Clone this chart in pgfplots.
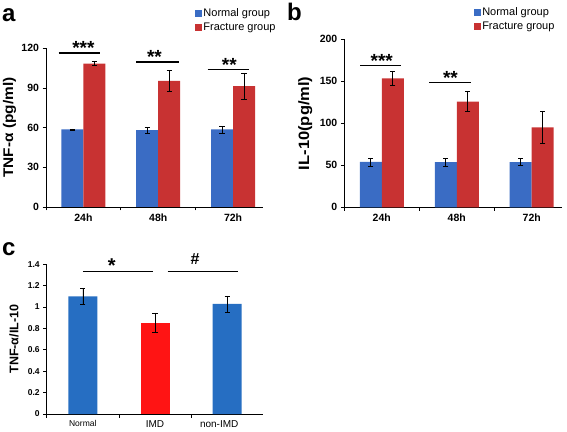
\documentclass[border=0pt]{standalone}
\usepackage{fontspec}
\setmainfont{Liberation Sans}
\usepackage{graphicx}
\usepackage{pgfplots}
\pgfplotsset{compat=1.18}
\definecolor{cblue}{RGB}{58,108,196}
\definecolor{cred}{RGB}{200,50,50}
\definecolor{cbright}{RGB}{255,20,20}
\definecolor{cblue2}{RGB}{38,110,194}
\pgfplotsset{
  sqlegend/.style={legend image code/.code={\fill[##1] (-2pt,-3.5pt) rectangle (5pt,3.5pt);}},
  panel/.style={
    scale only axis, clip=false, anchor=south west,
    axis x line*=bottom, axis y line*=left,
    axis line style={line width=0.8pt, black},
    tick align=outside, major tick length=3.5pt,
    every tick/.style={black, line width=0.8pt},
    enlargelimits=false,
    /pgf/number format/assume math mode=true,
    tick label style={font=\bfseries\fontsize{10.5}{12}\selectfont},
    error bars/y dir=both, error bars/y explicit,
    error bars/error bar style={black, line width=0.6pt},
    error bars/error mark options={black, rotate=90, mark size=2.6pt, line width=0.6pt},
  },
  twogroup/.style={
    panel, xmin=0, xmax=2.9, xtick={0,1,2}, xticklabels={,,},
    extra x ticks={0.5,1.5,2.5}, extra x tick labels={24h,48h,72h},
    extra x tick style={major tick length=0pt, tick label style={yshift=-3pt}},
    ybar=0pt, bar width=22pt,
    legend style={draw=none, fill=none, inner sep=0pt, outer sep=0pt,
      anchor=north west, row sep=1.5pt, legend cell align=left,
      font=\fontsize{11}{12}\selectfont, nodes={inner sep=1.6pt}},
  },
}
\begin{document}
\begin{tikzpicture}
\useasboundingbox (0,0) rectangle (567pt,431pt);
% panel letters
\node[anchor=base west, inner sep=0pt, font=\bfseries\fontsize{24}{24}\selectfont] at (2pt,409pt) {a};
\node[anchor=base west, inner sep=0pt, font=\bfseries\fontsize{24}{24}\selectfont] at (287pt,410pt) {b};
\node[anchor=base west, inner sep=0pt, font=\bfseries\fontsize{24}{24}\selectfont] at (2pt,175pt) {c};

% ---------- panel a ----------
\begin{axis}[twogroup, at={(46pt,224pt)}, width=217pt, height=158.7pt,
  ymin=0, ymax=120, ytick={0,30,60,90,120},
  ylabel={\scalebox{1.1}[1]{TNF-α (pg/ml)}},
  ylabel style={at={(axis description cs:-0.152,0.5)}, anchor=base, font=\bfseries\fontsize{14}{14}\selectfont},
  legend style={at={(axis description cs:0.686,1.26)}},
]
\addplot[fill=cblue, draw=none, sqlegend] coordinates {(0.5,58.6) +- (0,0.5) (1.5,58.1) +- (0,2.0) (2.5,58.6) +- (0,2.6)};
\addplot[fill=cred, draw=none, sqlegend] coordinates {(0.5,108.5) +- (0,1.3) (1.5,95.4) +- (0,8.0) (2.5,91.4) +- (0,10.0)};
\legend{Normal group, Fracture group}
\draw[line width=1.6pt] (axis cs:0.169,116.5) -- (axis cs:0.723,116.5);
\draw[line width=1.6pt] (axis cs:1.209,109.7) -- (axis cs:1.771,109.7);
\draw[line width=1.6pt] (axis cs:2.159,103.9) -- (axis cs:2.708,103.9);
\node[anchor=base, inner sep=0pt, yshift=-1.7pt, font=\bfseries\fontsize{19}{19}\selectfont] at (axis cs:0.5,116.5) {***};
\node[anchor=base, inner sep=0pt, yshift=-1.7pt, font=\bfseries\fontsize{19}{19}\selectfont] at (axis cs:1.45,109.7) {**};
\node[anchor=base, inner sep=0pt, yshift=-1.7pt, font=\bfseries\fontsize{19}{19}\selectfont] at (axis cs:2.45,103.9) {**};
\end{axis}

% ---------- panel b ----------
\begin{axis}[twogroup, at={(344.3pt,223.7pt)}, width=217.4pt, height=168pt,
  ymin=0, ymax=200, ytick={0,50,100,150,200},
  ylabel={\scalebox{1.1}[1]{IL-10(pg/ml)}},
  ylabel style={at={(axis description cs:-0.162,0.5)}, anchor=base, font=\bfseries\fontsize{15}{15}\selectfont},
  legend style={at={(axis description cs:0.595,1.198)}},
]
\addplot[fill=cblue, draw=none, sqlegend] coordinates {(0.5,54.0) +- (0,4.8) (1.5,53.8) +- (0,4.5) (2.5,53.8) +- (0,4.0)};
\addplot[fill=cred, draw=none, sqlegend] coordinates {(0.5,153.6) +- (0,8.5) (1.5,125.7) +- (0,12.0) (2.5,95.0) +- (0,19.0)};
\legend{Normal group, Fracture group}
\draw[line width=1.6pt] (axis cs:0.21,168.6) -- (axis cs:0.756,168.6);
\draw[line width=1.6pt] (axis cs:1.13,148.8) -- (axis cs:1.69,148.8);
\node[anchor=base, inner sep=0pt, yshift=-1.7pt, font=\bfseries\fontsize{19}{19}\selectfont] at (axis cs:0.5,168.6) {***};
\node[anchor=base, inner sep=0pt, yshift=-1.7pt, font=\bfseries\fontsize{19}{19}\selectfont] at (axis cs:1.416,148.8) {**};
\end{axis}

% ---------- panel c ----------
\begin{axis}[panel, at={(46.7pt,17pt)}, width=216.6pt, height=149.7pt,
  xmin=0, xmax=3, xtick={0,1,2}, xticklabels={,,},
  extra x ticks={0.5,1.5,2.5},
  extra x tick labels={{\fontsize{8.5}{10}\selectfont Normal},{\fontsize{10}{12}\selectfont IMD},{\fontsize{10}{12}\selectfont non-IMD\hspace*{16pt}}},
  extra x tick style={major tick length=0pt, tick label style={yshift=-3pt, font=\mdseries}},
  ymin=0, ymax=1.4, ytick={0,0.2,...,1.4},
  tick label style={font=\bfseries\fontsize{8.5}{10}\selectfont},
  ylabel={TNF-α/IL-10},
  ylabel style={at={(axis description cs:-0.131,0.5)}, anchor=base, font=\bfseries\fontsize{12.5}{12.5}\selectfont},
  bar width=29pt,
]
\addplot[ybar, bar shift=0pt, fill=cblue2, draw=none] coordinates {(0.5,1.10) +- (0,0.075) (2.5,1.03) +- (0,0.075)};
\addplot[ybar, bar shift=0pt, fill=cbright, draw=none] coordinates {(1.5,0.855) +- (0,0.09)};
\draw[line width=1.6pt] (axis cs:0.5,1.331) -- (axis cs:1.47,1.331);
\draw[line width=1.6pt] (axis cs:1.675,1.331) -- (axis cs:2.65,1.331);
\node[anchor=base, inner sep=0pt, yshift=-1.2pt, font=\bfseries\fontsize{20}{20}\selectfont] at (axis cs:0.9,1.331) {*};
\node[anchor=base, inner sep=0pt, font=\bfseries\fontsize{16}{16}\selectfont] at (axis cs:2.056,1.394) {\#};
\end{axis}
\end{tikzpicture}
\end{document}
